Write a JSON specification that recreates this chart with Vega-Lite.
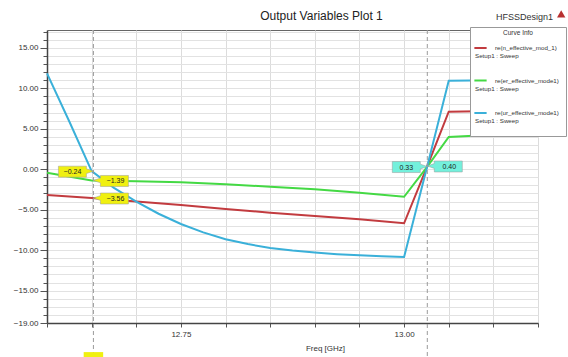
{
  "$schema": "https://vega.github.io/schema/vega-lite/v6.json",
  "width": 491,
  "height": 293,
  "autosize": {"type": "none"},
  "padding": {"left": 47, "top": 30, "right": 30, "bottom": 34},
  "background": "white",
  "title": {"text": "Output Variables Plot 1", "fontSize": 12, "font": "Liberation Sans", "fontWeight": "normal", "color": "#222", "anchor": "middle", "dx": 29, "offset": -13},
  "config": {
    "font": "Liberation Sans",
    "view": {"stroke": "#666", "strokeWidth": 1}
  },
  "datasets": {
    "curves": [
      {"f": 12.6, "v": -3.19, "c": "re(n_effective_mod_1)"},
      {"f": 12.65, "v": -3.56, "c": "re(n_effective_mod_1)"},
      {"f": 12.7, "v": -3.99, "c": "re(n_effective_mod_1)"},
      {"f": 12.75, "v": -4.42, "c": "re(n_effective_mod_1)"},
      {"f": 12.8, "v": -4.92, "c": "re(n_effective_mod_1)"},
      {"f": 12.85, "v": -5.37, "c": "re(n_effective_mod_1)"},
      {"f": 12.9, "v": -5.78, "c": "re(n_effective_mod_1)"},
      {"f": 12.95, "v": -6.19, "c": "re(n_effective_mod_1)"},
      {"f": 13.0, "v": -6.68, "c": "re(n_effective_mod_1)"},
      {"f": 13.026, "v": 0.37, "c": "re(n_effective_mod_1)"},
      {"f": 13.05, "v": 7.1, "c": "re(n_effective_mod_1)"},
      {"f": 13.1, "v": 7.2, "c": "re(n_effective_mod_1)"},
      {"f": 13.15, "v": 7.25, "c": "re(n_effective_mod_1)"},
      {"f": 12.6, "v": -0.45, "c": "re(er_effective_mode1)"},
      {"f": 12.65, "v": -1.39, "c": "re(er_effective_mode1)"},
      {"f": 12.7, "v": -1.5, "c": "re(er_effective_mode1)"},
      {"f": 12.75, "v": -1.62, "c": "re(er_effective_mode1)"},
      {"f": 12.8, "v": -1.87, "c": "re(er_effective_mode1)"},
      {"f": 12.85, "v": -2.16, "c": "re(er_effective_mode1)"},
      {"f": 12.9, "v": -2.49, "c": "re(er_effective_mode1)"},
      {"f": 12.95, "v": -2.9, "c": "re(er_effective_mode1)"},
      {"f": 13.0, "v": -3.4, "c": "re(er_effective_mode1)"},
      {"f": 13.026, "v": 0.33, "c": "re(er_effective_mode1)"},
      {"f": 13.05, "v": 3.98, "c": "re(er_effective_mode1)"},
      {"f": 13.1, "v": 4.25, "c": "re(er_effective_mode1)"},
      {"f": 13.15, "v": 4.35, "c": "re(er_effective_mode1)"},
      {"f": 12.6, "v": 11.84, "c": "re(ur_effective_mode1)"},
      {"f": 12.625, "v": 5.9, "c": "re(ur_effective_mode1)"},
      {"f": 12.65, "v": -0.24, "c": "re(ur_effective_mode1)"},
      {"f": 12.675, "v": -2.3, "c": "re(ur_effective_mode1)"},
      {"f": 12.7, "v": -4.0, "c": "re(ur_effective_mode1)"},
      {"f": 12.725, "v": -5.5, "c": "re(ur_effective_mode1)"},
      {"f": 12.75, "v": -6.77, "c": "re(ur_effective_mode1)"},
      {"f": 12.775, "v": -7.8, "c": "re(ur_effective_mode1)"},
      {"f": 12.8, "v": -8.66, "c": "re(ur_effective_mode1)"},
      {"f": 12.825, "v": -9.25, "c": "re(ur_effective_mode1)"},
      {"f": 12.85, "v": -9.73, "c": "re(ur_effective_mode1)"},
      {"f": 12.875, "v": -10.05, "c": "re(ur_effective_mode1)"},
      {"f": 12.9, "v": -10.3, "c": "re(ur_effective_mode1)"},
      {"f": 12.925, "v": -10.5, "c": "re(ur_effective_mode1)"},
      {"f": 12.95, "v": -10.64, "c": "re(ur_effective_mode1)"},
      {"f": 12.975, "v": -10.75, "c": "re(ur_effective_mode1)"},
      {"f": 13.0, "v": -10.85, "c": "re(ur_effective_mode1)"},
      {"f": 13.026, "v": 0.4, "c": "re(ur_effective_mode1)"},
      {"f": 13.05, "v": 10.93, "c": "re(ur_effective_mode1)"},
      {"f": 13.1, "v": 11.0, "c": "re(ur_effective_mode1)"},
      {"f": 13.15, "v": 11.0, "c": "re(ur_effective_mode1)"}
    ],
    "markers": [{"f": 12.652}, {"f": 13.026}],
    "labels": [
      {"f": 12.652, "v": -0.24, "side": "L", "grp": "Y"},
      {"f": 12.652, "v": -1.39, "side": "R", "grp": "Y"},
      {"f": 12.652, "v": -3.56, "side": "R", "grp": "Y"},
      {"f": 13.026, "v": 0.33, "side": "L", "grp": "C"},
      {"f": 13.026, "v": 0.4, "side": "R", "grp": "C"}
    ]
  },
  "layer": [
    {
      "data": {"name": "curves"},
      "mark": {"type": "line", "strokeWidth": 2},
      "encoding": {
        "x": {
          "field": "f", "type": "quantitative",
          "scale": {"domain": [12.6, 13.15], "nice": false, "zero": false},
          "axis": {
            "values": [12.6, 12.65, 12.7, 12.75, 12.8, 12.85, 12.9, 12.95, 13.0, 13.05, 13.1, 13.15],
            "tickCount": 20,
            "labelExpr": "abs(datum.value - 12.75) < 1e-6 || abs(datum.value - 13) < 1e-6 ? format(datum.value, '.2f') : ''",
            "grid": true, "gridColor": "#dcdcdc", "gridWidth": 1,
            "tickColor": "#555", "tickSize": 4,
            "domainColor": "#444", "domainWidth": 1.5,
            "labelFontSize": 8, "labelColor": "#333", "labelPadding": 3, "labelOverlap": false, "labelFlush": false,
            "title": "Freq [GHz]", "titleFontSize": 8, "titleFontWeight": "normal", "titleColor": "#333",
            "titleX": 278, "titleY": 25, "titleBaseline": "middle"
          }
        },
        "y": {
          "field": "v", "type": "quantitative",
          "scale": {"domain": [-19, 17.2], "nice": false, "zero": false},
          "axis": {
            "values": [-19, -18, -17, -16, -15, -14, -13, -12, -11, -10, -9, -8, -7, -6, -5, -4, -3, -2, -1, 0, 1, 2, 3, 4, 5, 6, 7, 8, 9, 10, 11, 12, 13, 14, 15, 16, 17],
            "tickCount": 60,
            "labelExpr": "(datum.value % 5 == 0 || datum.value == -19) ? format(datum.value, '.2f') : ''",
            "grid": true, "gridColor": "#e2e2e2", "gridWidth": 1,
            "tickColor": "#555",
            "tickSize": {"condition": {"test": "datum.value % 5 == 0 || datum.value == -19", "value": 7}, "value": 4},
            "domainColor": "#444", "domainWidth": 1.5,
            "labelFontSize": 8, "labelColor": "#333", "labelPadding": 2, "labelOverlap": false, "labelFlush": false,
            "title": null
          }
        },
        "color": {
          "field": "c", "type": "nominal",
          "scale": {"domain": ["re(n_effective_mod_1)", "re(er_effective_mode1)", "re(ur_effective_mode1)"], "range": ["#c23b3f", "#44d944", "#3ab0d9"]},
          "legend": {
            "title": "Curve Info", "orient": "none", "legendX": 423, "legendY": -3,
            "fillColor": "white", "strokeColor": "#999", "padding": 3,
            "titleFontSize": 6.5, "titleFontWeight": "normal", "titleAnchor": "middle", "titleColor": "#333", "titlePadding": 4,
            "labelFontSize": 6.2, "labelColor": "#333", "labelLimit": 200, "labelOffset": -13,
            "symbolType": "stroke", "symbolStrokeWidth": 2, "symbolSize": 150,
            "rowPadding": 4.5,
            "labelExpr": "['\u2800\u2800\u2800\u2800\u2800' + datum.label + '\u2800', 'Setup1 : Sweep', '\u2800']"
          }
        }
      }
    },
    {
      "data": {"name": "markers"},
      "mark": {"type": "rule", "color": "#9a9a9a", "strokeDash": [4, 3], "strokeWidth": 1},
      "encoding": {
        "x": {"field": "f", "type": "quantitative"},
        "y": {"datum": 17.2, "type": "quantitative"},
        "y2": {"datum": -24.5}
      }
    },
    {
      "data": {"name": "labels"},
      "mark": {"type": "point", "filled": true, "size": 1600, "stroke": "#999", "strokeWidth": 0.5, "opacity": 1, "fillOpacity": 1},
      "encoding": {
        "x": {"field": "f", "type": "quantitative"},
        "y": {"field": "v", "type": "quantitative"},
        "shape": {"field": "side", "type": "nominal", "legend": null,
          "scale": {"domain": ["L", "R"], "range": ["M0,0L-0.35,-0.12V-0.25H-1.75V0.3H-0.35V0.12Z", "M0,0L0.35,-0.12V-0.25H1.75V0.3H0.35V0.12Z"]}},
        "fill": {"field": "grp", "type": "nominal", "legend": null,
          "scale": {"domain": ["Y", "C"], "range": ["#f0f010", "#74f0dc"]}}
      }
    },
    {
      "data": {"name": "labels"},
      "transform": [{"filter": "datum.side == 'L'"}],
      "mark": {"type": "text", "dx": -21, "dy": 1, "fontSize": 7, "color": "#222"},
      "encoding": {
        "x": {"field": "f", "type": "quantitative"},
        "y": {"field": "v", "type": "quantitative"},
        "text": {"field": "v", "type": "quantitative", "format": ".2f"}
      }
    },
    {
      "data": {"name": "labels"},
      "transform": [{"filter": "datum.side == 'R'"}],
      "mark": {"type": "text", "dx": 22, "dy": 1, "fontSize": 7, "color": "#222"},
      "encoding": {
        "x": {"field": "f", "type": "quantitative"},
        "y": {"field": "v", "type": "quantitative"},
        "text": {"field": "v", "type": "quantitative", "format": ".2f"}
      }
    },
    {
      "data": {"values": [{}]},
      "mark": {"type": "point", "shape": "square", "filled": true, "size": 380, "color": "#f0f010", "opacity": 1},
      "encoding": {
        "x": {"datum": 12.652, "type": "quantitative"},
        "y": {"datum": -23.8, "type": "quantitative"}
      }
    },
    {
      "data": {"values": [{}]},
      "mark": {"type": "text", "text": "HFSSDesign1", "fontSize": 9, "color": "#333"},
      "encoding": {
        "x": {"datum": 13.135, "type": "quantitative"},
        "y": {"datum": 18.8, "type": "quantitative"}
      }
    },
    {
      "data": {"values": [{}]},
      "mark": {"type": "point", "shape": "triangle-up", "filled": true, "size": 70, "color": "#b83030", "opacity": 1},
      "encoding": {
        "x": {"datum": 13.176, "type": "quantitative"},
        "y": {"datum": 19.2, "type": "quantitative"}
      }
    }
  ]
}
